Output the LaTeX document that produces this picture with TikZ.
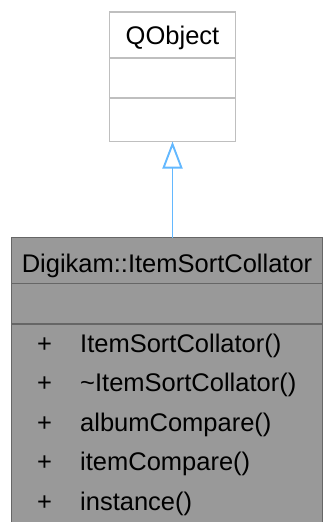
\documentclass[tikz,border=0pt]{standalone}
\usepackage{fontspec}
\setmainfont{Liberation Sans}
\usetikzlibrary{arrows.meta}
\definecolor{qborder}{HTML}{BFBFBF}
\definecolor{mainfill}{HTML}{999999}
\definecolor{mainborder}{HTML}{666666}
\definecolor{edgeblue}{HTML}{63B8FF}
\tikzset{
  x=1pt, y=1pt,
  lbl/.style={font=\fontsize{25.5}{28}\selectfont, inner sep=0pt, anchor=base west},
  lblc/.style={font=\fontsize{25.5}{28}\selectfont, inner sep=0pt, anchor=base},
  qbox/.style={draw=qborder, fill=white, line width=1.8pt},
  mbox/.style={draw=mainborder, fill=mainfill, line width=1.8pt},
  inherit/.style={draw=edgeblue, line width=1.9pt, -{Triangle[open, length=27pt, width=20pt, line width=1.9pt]}}
}
\begin{document}
\begin{tikzpicture}
\useasboundingbox (0,0) rectangle (324,-522);
\clip (0,0) rectangle (324,-522);
% QObject
\draw[qbox] (109.5,-12) rectangle (235.5,-141.5);
\draw[qbox] (109.5,-58) -- (235.5,-58);
\draw[qbox] (109.5,-98) -- (235.5,-98);
\node[lblc] (qtitle) at (172.5,-44) {QObject};
\coordinate (qbot) at (172.5,-141.5);
% main class
\draw[mbox] (11.5,-237.5) rectangle (322.5,-530);
\draw[mbox] (11.5,-283.5) -- (322.5,-283.5);
\draw[mbox] (11.5,-324) -- (322.5,-324);
\node[lblc] (mtitle) at (167,-272) {Digikam::ItemSortCollator};
\coordinate (mtop) at (172.5,-237.5);
\foreach \t [count=\i] in {ItemSortCollator(), \textasciitilde ItemSortCollator(), albumCompare(), itemCompare(), instance()} {
  \node[lblc] (p\i) at (44.5,{-352-39.6*(\i-1)}) {+};
  \node[lbl] (m\i) at (80,{-352-39.6*(\i-1)}) {\t};
}
\draw[inherit] (mtop) -- (qbot);
\end{tikzpicture}
\end{document}
